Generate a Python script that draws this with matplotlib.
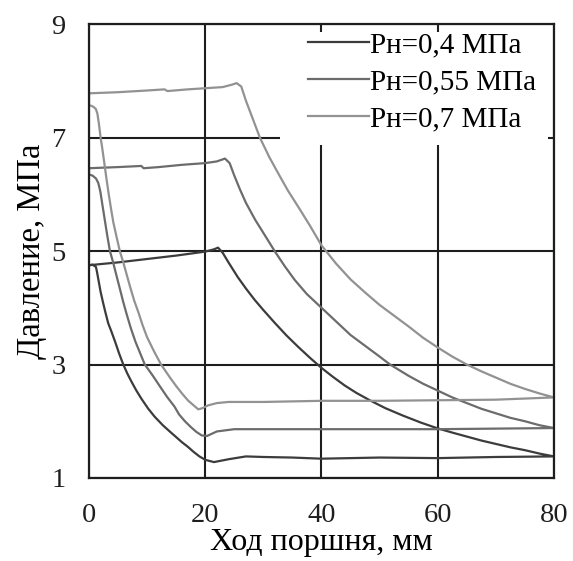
import matplotlib
matplotlib.use("Agg")
import matplotlib.pyplot as plt
from matplotlib.patches import Rectangle

# indicator loops (x: stroke, mm; y: pressure, MPa)
# upper line -> expansion -> bottom line back -> compression up to x=0
x_04 = [0, 5, 10, 15, 20, 21.5, 22.2, 23, 24, 25.6, 27, 28.5, 30, 32, 34, 36, 38, 40, 42, 44, 46, 48.3,
        51, 54, 57, 59.8, 62.5, 65, 67.5, 70, 72.5, 75, 77.5, 80,
        70, 60, 50, 40, 35, 30, 27, 24, 21.5, 20,
        19, 18, 17, 16, 15, 14, 12.7, 11.3, 10.2, 9, 8.1, 7.3, 6.6, 5.9, 5.2, 4.5, 3.9, 3.3, 2.8, 2.4,
        2.0, 1.7, 1.4, 1.2, 0.6, 0]
y_04 = [4.75, 4.80, 4.86, 4.92, 4.99, 5.03, 5.06, 4.97, 4.80, 4.54, 4.34, 4.14, 3.96, 3.73, 3.51, 3.31, 3.12, 2.94, 2.78, 2.63, 2.50, 2.37,
        2.23, 2.10, 1.98, 1.88, 1.80, 1.73, 1.66, 1.60, 1.54, 1.49, 1.43, 1.38,
        1.37, 1.35, 1.36, 1.34, 1.36, 1.37, 1.38, 1.33, 1.28, 1.32,
        1.38, 1.46, 1.55, 1.63, 1.72, 1.81, 1.93, 2.08, 2.22, 2.40, 2.55, 2.70, 2.84, 3.00, 3.19, 3.40, 3.57, 3.73, 3.93, 4.10,
        4.28, 4.45, 4.62, 4.72, 4.76, 4.75]

x_055 = [0, 5, 9, 9.4, 12, 16, 20, 22, 23.4, 24.2, 25, 26, 27, 28.6, 30, 32, 33.7, 35.4, 37.5, 40, 42.5, 45,
         47.5, 50, 51.8, 55, 57.5, 59.8, 62.5, 65, 67.5, 70, 72.5, 75, 77.5, 80,
         70, 60, 50, 40, 30, 25, 22, 20.3, 19.4,
         18.5, 17.5, 16.5, 15.5, 14.7, 13.5, 12.3, 11, 9.6, 8.8, 8.0, 7.2, 6.5, 5.9, 5.2, 4.6, 4.1, 3.6,
         3.1, 2.7, 2.3, 1.95, 1.6, 1.2, 0.6, 0, 0]
y_055 = [6.46, 6.48, 6.50, 6.46, 6.48, 6.52, 6.55, 6.58, 6.63, 6.55, 6.33, 6.08, 5.85, 5.55, 5.32, 4.99, 4.73, 4.49, 4.24, 4.00, 3.76, 3.52,
         3.33, 3.14, 3.00, 2.80, 2.66, 2.55, 2.42, 2.32, 2.22, 2.14, 2.06, 2.00, 1.93, 1.88,
         1.87, 1.86, 1.86, 1.86, 1.86, 1.86, 1.82, 1.74, 1.75,
         1.81, 1.90, 2.00, 2.12, 2.26, 2.42, 2.60, 2.80, 3.00, 3.20, 3.40, 3.64, 3.88, 4.10, 4.38, 4.62, 4.82, 5.00,
         5.30, 5.56, 5.82, 6.05, 6.20, 6.28, 6.33, 6.35, 6.46]

x_07 = [0, 5, 10, 13, 13.5, 17, 20, 23, 24.5, 25.4, 26.2, 27, 28, 29.4, 31, 32.5, 34.2, 36, 38, 40, 42.5, 45,
        47.5, 50, 52.5, 55, 57.5, 60, 62.5, 65, 67.5, 70, 72.5, 75, 77.5, 80,
        70, 60, 50, 40, 30, 24, 22, 20.5, 19.5, 18.8,
        18, 17, 16, 15, 14, 13, 12.4, 11.2, 10, 9.2, 8.5, 7.8, 7.1, 6.5, 5.9, 5.3, 4.7, 4.2, 3.8, 3.4,
        3.0, 2.6, 2.3, 2.0, 1.7, 1.45, 1.2, 0.8, 0.4, 0, 0]
y_07 = [7.78, 7.80, 7.83, 7.85, 7.82, 7.85, 7.87, 7.89, 7.93, 7.96, 7.90, 7.65, 7.38, 7.00, 6.66, 6.38, 6.07, 5.78, 5.45, 5.10, 4.78, 4.50,
        4.27, 4.05, 3.86, 3.67, 3.47, 3.30, 3.14, 3.00, 2.88, 2.77, 2.66, 2.57, 2.49, 2.42,
        2.38, 2.37, 2.36, 2.36, 2.34, 2.34, 2.32, 2.28, 2.23, 2.21,
        2.28, 2.37, 2.49, 2.62, 2.76, 2.91, 3.00, 3.23, 3.48, 3.70, 3.92, 4.12, 4.36, 4.58, 4.80, 5.00, 5.27, 5.50, 5.74, 6.00,
        6.28, 6.58, 6.80, 7.00, 7.25, 7.42, 7.50, 7.54, 7.56, 7.57, 7.78]

labels = ["Pн=0,4 МПа", "Pн=0,55 МПа", "Pн=0,7 МПа"]
colors = ["#3c3c3c", "#6c6c6c", "#929292"]
x_ticks = [0, 20, 40, 60, 80]
y_ticks = [1, 3, 5, 7, 9]

plt.rcParams["font.family"] = ["Liberation Serif", "DejaVu Serif"]

fig = plt.figure(figsize=(5.73, 5.61), dpi=100)
ax = fig.add_axes([0.1553, 0.148, 0.8115, 0.809])

for xs, ys, lab, c in zip([x_04, x_055, x_07], [y_04, y_055, y_07], labels, colors):
    ax.plot(xs, ys, color=c, lw=1.6, label=lab, zorder=3, solid_joinstyle="round")

ax.set_xlim(x_ticks[0], x_ticks[-1])
ax.set_ylim(y_ticks[0], y_ticks[-1])
ax.set_xticks(x_ticks)
ax.set_yticks(y_ticks)
ax.grid(True, color="#1e1e1e", lw=1.5, zorder=1)
ax.set_axisbelow(True)
for s in ax.spines.values():
    s.set_color("#1e1e1e")
    s.set_linewidth(1.6)
    s.set_zorder(5)
ax.tick_params(length=0, labelsize=20.5, colors="#1e1e1e")
ax.tick_params(axis="x", pad=18)
ax.tick_params(axis="y", pad=17)

ax.set_xlabel("Ход поршня, мм", fontsize=23, labelpad=0)
ax.set_ylabel("Давление, МПа", fontsize=23.5, labelpad=3)

# white patch under the legend hides the grid there
ax.add_patch(Rectangle((0.411, 0.733), 0.576, 0.249, transform=ax.transAxes,
                       facecolor="white", edgecolor="none", zorder=2))
leg = ax.legend(loc="upper right", bbox_to_anchor=(0.975, 0.995), frameon=False,
                fontsize=21, handlelength=2.1, handletextpad=0.05,
                labelspacing=0.36, borderaxespad=0.0, borderpad=0.2)
leg.set_zorder(4)

fig.savefig("out.png", dpi=100)
